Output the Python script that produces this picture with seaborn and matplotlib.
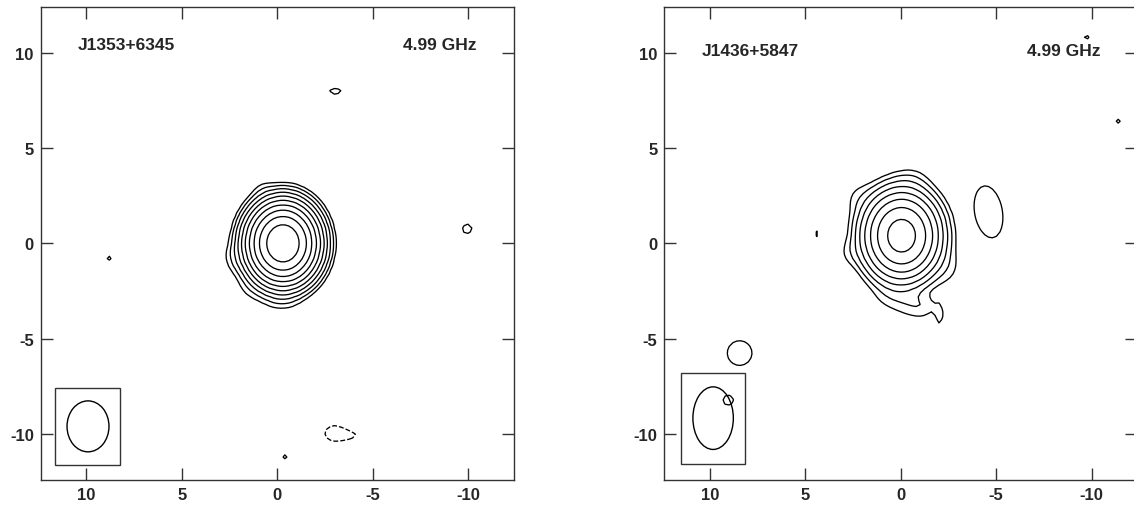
import numpy as np
import matplotlib
matplotlib.use("Agg")
import matplotlib.pyplot as plt
from matplotlib.patches import Ellipse, Rectangle
import seaborn as sns

# map extent in mas (RA runs right-to-left)
ra_lim = [12.4, -12.4]
dec_lim = [-12.4, 12.4]
tick_vals = [-10, -5, 0, 5, 10]
freq_label = "4.99 GHz"
pixel = 0.2  # map pixel size, mas

# J1353+6345 : gaussian components, peak in units of the lowest contour
j1353_x = [-0.30, 2.15, -0.20, 1.40, 0.80, -3.05, -9.96, 8.82, -0.41, -3.00, -3.80]
j1353_y = [0.00, -0.75, -3.00, -2.30, 2.80, 7.97, 0.76, -0.77, -11.18, -9.95, -10.05]
j1353_peak = [971, 1.4, 0.9, 0.8, 0.6, 1.4, 1.4, 1.3, 1.3, -1.6, -1.1]
j1353_sx = [0.75, 0.45, 0.70, 0.60, 0.40, 0.36, 0.30, 0.18, 0.18, 0.50, 0.45]
j1353_sy = [0.86, 0.55, 0.45, 0.60, 0.40, 0.20, 0.30, 0.18, 0.18, 0.40, 0.20]
j1353_pa = [0, 0, 0, 0, 0, 0, 45, 0, 0, 0, 0]
j1353_levels = [-1, 1, 2, 4, 8, 16, 32, 64, 128, 256, 512]
j1353_beam = [9.92, -9.59, 2.2, 2.67]      # x, y, width, height
j1353_box = [8.22, -11.62, 3.41, 4.05]     # x0, y0, width, height

# J1436+5847
j1436_x = [-0.04, 2.20, 2.60, -0.60, 0.50, -0.50, -1.20, -2.05, -2.40,
           -4.60, 8.45, 9.05, 4.47, -9.74, -11.40]
j1436_y = [0.40, 2.40, -0.50, 3.30, -2.80, -3.20, -3.35, -3.80, -1.30,
           1.65, -5.75, -8.22, 0.50, 10.80, 6.40]
j1436_peak = [182, 0.9, 0.9, 0.8, 1.0, 1.1, 1.1, 1.15, 1.0,
              1.6, 1.5, 1.3, 1.3, 1.3, 1.3]
j1436_sx = [0.87, 0.60, 0.50, 0.60, 0.70, 0.60, 0.50, 0.22, 0.60,
            0.75, 0.72, 0.38, 0.12, 0.18, 0.18]
j1436_sy = [1.02, 0.60, 0.50, 0.50, 0.55, 0.50, 0.45, 0.62, 0.70,
            1.42, 0.72, 0.36, 0.37, 0.18, 0.18]
j1436_pa = [0, 0, 0, 0, 0, 0, 0, 0, 0, -10, 0, 0, 0, 0, 0]
j1436_levels = [1, 2, 4, 8, 16, 32, 64, 128]
j1436_beam = [9.84, -9.16, 2.12, 3.28]
j1436_box = [8.15, -11.55, 3.40, 4.78]


def brightness(xx, yy, cx, cy, peak, sx, sy, pa):
    z = np.zeros_like(xx)
    for x0, y0, p, a, b, t in zip(cx, cy, peak, sx, sy, pa):
        t = np.radians(t)
        dx, dy = xx - x0, yy - y0
        u = dx * np.cos(t) + dy * np.sin(t)
        v = -dx * np.sin(t) + dy * np.cos(t)
        z += p * np.exp(-0.5 * ((u / a) ** 2 + (v / b) ** 2))
    return z


sns.set_theme(style="ticks")
plt.rcParams["font.family"] = ["Liberation Sans", "DejaVu Sans"]
plt.rcParams["font.weight"] = "bold"
plt.rcParams["axes.unicode_minus"] = False
plt.rcParams["contour.negative_linestyle"] = "dashed"

grid = np.arange(-12.6, 12.6 + pixel / 2, pixel)
gx, gy = np.meshgrid(grid, grid)

fig = plt.figure(figsize=(11.34, 5.10), dpi=100)
ax_l = fig.add_axes([0.0359, 0.0569, 0.4171, 0.928])
ax_r = fig.add_axes([0.5858, 0.0569, 0.4171, 0.928])

panels = [
    (ax_l, "J1353+6345", 10.4, j1353_x, j1353_y, j1353_peak, j1353_sx, j1353_sy, j1353_pa,
     j1353_levels, j1353_beam, j1353_box),
    (ax_r, "J1436+5847", 10.1, j1436_x, j1436_y, j1436_peak, j1436_sx, j1436_sy, j1436_pa,
     j1436_levels, j1436_beam, j1436_box),
]

for ax, name, ty, cx, cy, pk, sx, sy, pa, levels, beam, box in panels:
    z = brightness(gx, gy, cx, cy, pk, sx, sy, pa)
    ax.contour(gx, gy, z, levels=levels, colors="black", linewidths=0.95)

    # restoring beam in its box
    ax.add_patch(Rectangle((box[0], box[1]), box[2], box[3], fill=False,
                           edgecolor="#333333", linewidth=1.0))
    ax.add_patch(Ellipse((beam[0], beam[1]), beam[2], beam[3], fill=False,
                         edgecolor="black", linewidth=1.0))

    ax.text(10.45, ty, name, ha="left", va="center", fontsize=12.5, fontweight="bold")
    ax.text(-10.47, ty, freq_label, ha="right", va="center", fontsize=12.5, fontweight="bold")

    ax.set_xlim(ra_lim)
    ax.set_ylim(dec_lim)
    ax.set_xticks(tick_vals)
    ax.set_yticks(tick_vals)
    ax.tick_params(direction="in", top=True, right=True, length=8.5, width=1.0,
                   color="#333333", labelsize=12, pad=5)
    for lab in ax.get_xticklabels() + ax.get_yticklabels():
        lab.set_fontweight("bold")
    for sp in ax.spines.values():
        sp.set_color("#333333")
        sp.set_linewidth(1.0)

fig.savefig("out.png", dpi=100)
